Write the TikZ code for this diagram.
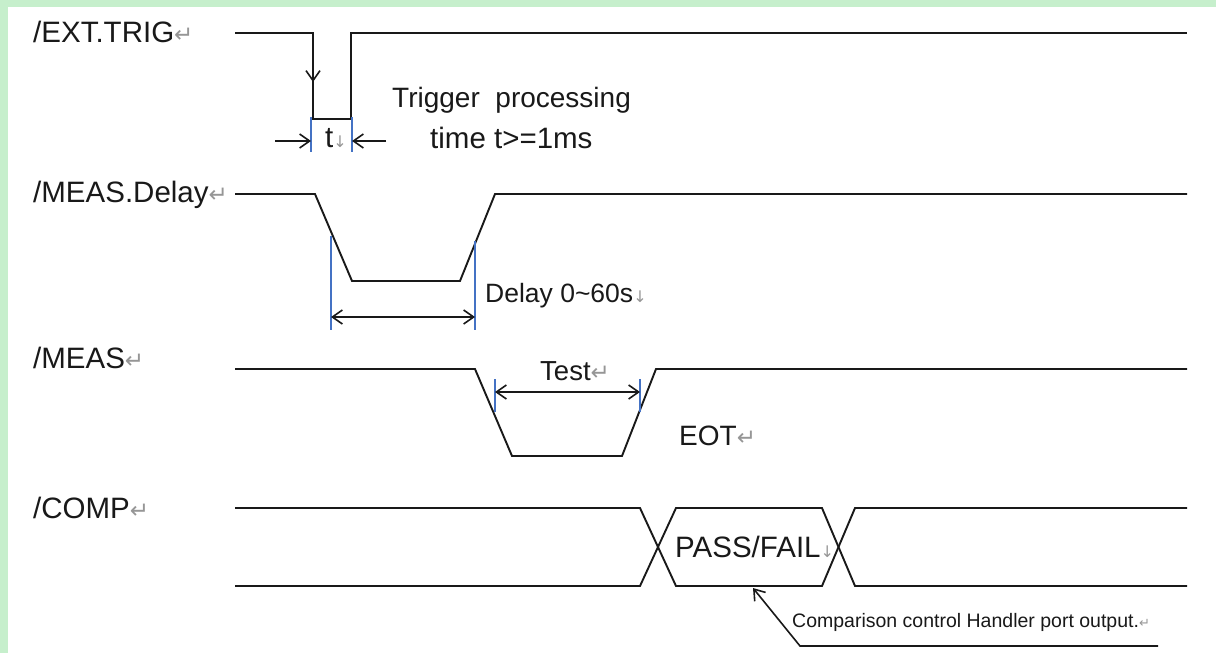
\documentclass[tikz,border=0pt]{standalone}
\usepackage{fontspec}
\setmainfont{Liberation Sans}
\newfontfamily\markfont{DejaVu Sans}
\usetikzlibrary{arrows.meta}
\definecolor{bggreen}{RGB}{198,239,204}
\definecolor{blueline}{RGB}{68,114,196}
\definecolor{markgray}{RGB}{150,150,150}
\definecolor{ink}{RGB}{25,25,25}
\newcommand\pmark{{\markfont\fontsize{23}{23}\selectfont\color{markgray}↵}}
\newcommand\dmark{{\markfont\fontsize{16}{16}\selectfont\color{markgray}↓}}
\newcommand\smark{{\markfont\fontsize{13}{13}\selectfont\color{markgray}↵}}
\begin{document}
\begin{tikzpicture}[x=1pt,y=-1pt,
  sig/.style={line width=1.9pt,draw=ink,line join=miter},
  blueedge/.style={line width=1.4pt,draw=blueline},
  dimarrow/.style={line width=1.6pt,draw=ink,>={Straight Barb[length=10pt,width=14pt]}},
  lbl/.style={inner sep=0pt,anchor=base west,text=ink,font=\fontsize{29.5}{34}\selectfont},
  small/.style={inner sep=0pt,anchor=base west,text=ink,font=\fontsize{19.5}{23}\selectfont}]
\useasboundingbox (0,0) rectangle (1216,653);
\fill[white] (0,0) rectangle (1216,653);
\fill[bggreen] (0,0) rectangle (1216,6.5);
\fill[bggreen] (0,0) rectangle (7.5,653);

% signal names
\node[lbl] (nTrig) at (33,42) {/EXT.TRIG\pmark};
\node[lbl] (nDelay) at (33,202) {/MEAS.Delay\pmark};
\node[lbl] (nMeas) at (33,368) {/MEAS\pmark};
\node[lbl] (nComp) at (33,518) {/COMP\pmark};

% /EXT.TRIG
\draw[sig] (235,33) -- (313,33) -- (313,119) -- (351,119) -- (351,33) -- (1187,33);
\draw[dimarrow,->] (313,50) -- (313,82);
\draw[blueedge] (311,117) -- (311,152);
\draw[blueedge] (352,117) -- (352,152);
\coordinate (tl) at (311,141);
\coordinate (tr) at (352,141);
\coordinate (tlfar) at (275,141);
\coordinate (trfar) at (386,141);
\draw[dimarrow,->] (tlfar) -- (tl);
\draw[dimarrow,->] (trfar) -- (tr);
\node[lbl] (tlab) at (325,147) {t\dmark};
\node[lbl,font=\fontsize{28}{32}\selectfont] (trigproc) at (392,107) {Trigger\hspace{0.28em} processing};
\node[lbl] (trigtime) at (430,148) {time t>=1ms};

% /MEAS.Delay
\draw[sig] (235,194) -- (315,194) -- (352,281) -- (460,281) -- (495,194) -- (1187,194);
\draw[blueedge] (331,236) -- (331,330);
\draw[blueedge] (475,241) -- (475,330);
\coordinate (dl) at (331,317);
\coordinate (dr) at (475,317);
\draw[dimarrow,<->] (dl) -- (dr);
\node[lbl,font=\fontsize{26.5}{31}\selectfont] (delaylab) at (485,302) {Delay 0\char`\~60s\dmark};

% /MEAS
\draw[sig] (235,369) -- (475,369) -- (512,456) -- (622,456) -- (656,369) -- (1187,369);
\draw[blueedge] (495,379) -- (495,412);
\draw[blueedge] (640,379) -- (640,412);
\coordinate (ml) at (495,392);
\coordinate (mr) at (640,392);
\draw[dimarrow,<->] (ml) -- (mr);
\node[lbl,font=\fontsize{27.5}{32}\selectfont] (testlab) at (540,380) {Test\pmark};
\node[lbl,font=\fontsize{28}{32}\selectfont] (eotlab) at (679,445) {EOT\pmark};

% /COMP
\draw[sig] (235,508) -- (640,508) -- (676,586) -- (822,586) -- (855,508) -- (1187,508);
\draw[sig] (235,586) -- (640,586) -- (676,508) -- (822,508) -- (855,586) -- (1187,586);
\node[lbl] (pflab) at (675,557) {PASS/FAIL\dmark};

% note
\coordinate (noteend) at (1158,646);
\coordinate (notebend) at (800,646);
\coordinate (notetip) at (753,588);
\draw[dimarrow,->] (noteend) -- (notebend) -- (notetip);
\node[small] (note) at (792,627) {Comparison control Handler port output.\smark};
\end{tikzpicture}
\end{document}
